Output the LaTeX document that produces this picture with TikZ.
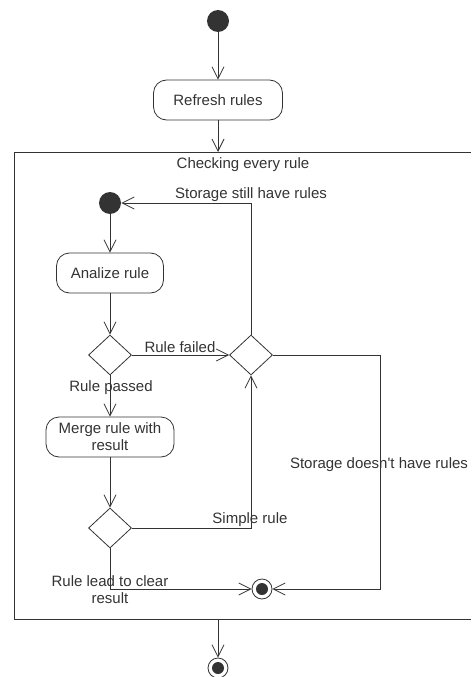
\documentclass[tikz,border=0pt]{standalone}
\usepackage{fontspec}
\setmainfont{Liberation Sans}
\usetikzlibrary{shapes.geometric,arrows.meta}

\tikzset{
    activity/.style={draw, rounded corners=13pt, minimum height=40pt, align=center, inner sep=2pt},
    decision/.style={draw, diamond, minimum width=43pt, minimum height=40pt, inner sep=0pt},
    startdot/.style={circle, fill, minimum size=22pt, inner sep=0pt},
    enddot/.style={circle, draw, minimum size=20pt, inner sep=0pt,
        path picture={\fill (path picture bounding box.center) circle (6pt);}},
}

\begin{document}
\begin{tikzpicture}[x=1pt, y=-1pt, color=black!80, line width=0.8pt,
        >={Straight Barb[length=12pt,width=12pt]},
        font=\fontsize{15}{17}\selectfont]
        \useasboundingbox (0,0) rectangle (471,677);
        % outer flow
        \node[startdot] (start) at (218,21) {};
        \node[activity, minimum width=129pt] (refresh) at (218,100) {Refresh rules};
        \coordinate (ctop) at (218,152);
        \coordinate (cbot) at (218,619);
        \node[enddot] (finish) at (218,668) {};
        % container
        \draw (471,152) -- (14,152) -- (14,619) -- (471,619);
        \node (title) at (243,165) {Checking every rule};
        % inner flow
        \begin{scope}
            \node[startdot] (S2) at (110,203) {};
            \node[activity, minimum width=107pt] (analize) at (110,273) {Analize rule};
            \node[decision] (D1) at (110,355) {};
            \node[decision] (D2) at (251,355) {};
            \node[activity, minimum width=128pt] (merge) at (110,437) {Merge rule with\\result};
            \node[decision] (D3) at (110,528) {};
            \node[enddot] (F1) at (262,589) {};
            \coordinate (r1) at (380,355);
        \end{scope}
        \begin{scope}[every node/.style={}]
            \node (still) at (251,195) {Storage still have rules};
            \node (failed) at (180,347) {Rule failed};
            \node (passed) at (111,388) {Rule passed};
            \node (nomore) at (379,465) {Storage doesn\textquotesingle t have rules};
            \node (simple) at (250,520) {Simple rule};
            \node[align=center] (clear) at (110,590) {Rule lead to clear\\result};
        \end{scope}
        \path [->] (start) edge (refresh);
        \path [->] (refresh) edge (ctop);
        \path [->] (cbot) edge (finish);
        \path [->] (S2) edge (analize);
        \path [->] (analize) edge (D1);
        \path [->] (D1) edge (merge);
        \path [->] (D1) edge (D2);
        \path [->] (merge) edge (D3);
        \draw [->] (D3) -| (D2);
        \draw [->] (D3) |- (F1);
        \draw [->] (D2) -- (r1) |- (F1);
        \draw [->] (D2) |- (S2);
\end{tikzpicture}
\end{document}
